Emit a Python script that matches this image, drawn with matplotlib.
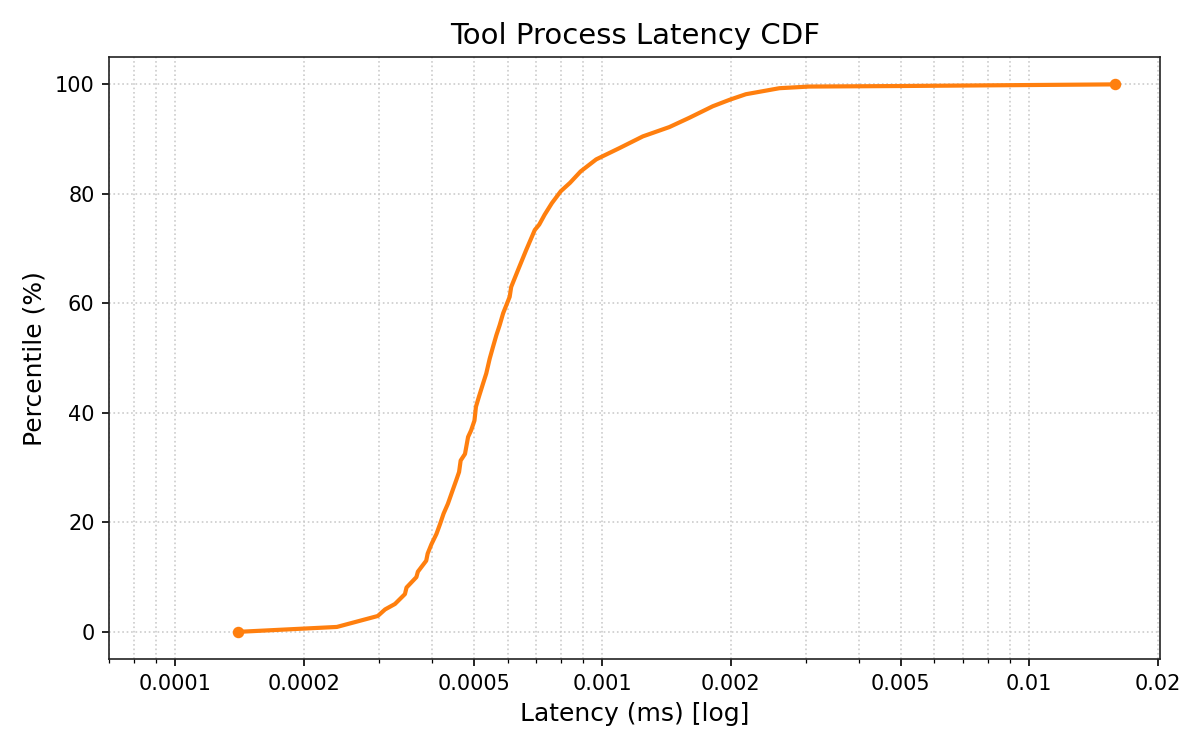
import matplotlib
matplotlib.use("Agg")
import matplotlib.pyplot as plt
from matplotlib.ticker import FixedLocator, FixedFormatter, NullFormatter, LogLocator

latency_ms = [1.40e-4, 2.39e-4, 2.98e-4, 3.10e-4, 3.27e-4, 3.45e-4, 3.48e-4, 3.67e-4, 3.70e-4,
              3.87e-4, 3.90e-4, 3.98e-4, 4.09e-4, 4.17e-4, 4.25e-4, 4.35e-4, 4.46e-4, 4.55e-4,
              4.62e-4, 4.66e-4, 4.77e-4, 4.85e-4, 4.93e-4, 5.02e-4, 5.06e-4, 5.14e-4, 5.26e-4,
              5.35e-4, 5.45e-4, 5.55e-4, 5.65e-4, 5.75e-4, 5.86e-4, 6.07e-4, 6.12e-4, 6.35e-4,
              6.64e-4, 6.95e-4, 7.12e-4, 7.33e-4, 7.62e-4, 8.00e-4, 8.40e-4, 8.90e-4, 9.68e-4,
              1.10e-3, 1.245e-3, 1.436e-3, 1.60e-3, 1.815e-3, 1.99e-3, 2.17e-3, 2.60e-3,
              3.05e-3, 5.0e-3, 1.59e-2]
percentile = [0.0, 0.9, 2.9, 4.1, 5.1, 6.9, 8.1, 10.0, 11.0,
              13.0, 14.3, 16.0, 17.9, 19.7, 21.6, 23.4, 25.8, 27.7,
              29.2, 31.3, 32.5, 35.6, 36.8, 38.6, 41.1, 42.9, 45.4,
              47.2, 49.9, 52.1, 54.2, 56.0, 58.2, 61.2, 63.0, 66.1,
              69.8, 73.4, 74.4, 76.2, 78.3, 80.5, 82.0, 84.1, 86.3,
              88.4, 90.5, 92.2, 93.9, 96.0, 97.2, 98.2, 99.3,
              99.6, 99.7, 100.0]

xticks = [0.0001, 0.0002, 0.0005, 0.001, 0.002, 0.005, 0.01, 0.02]
xticklabels = ["0.0001", "0.0002", "0.0005", "0.001", "0.002", "0.005", "0.01", "0.02"]

color = "#ff7f0e"
fig, ax = plt.subplots(figsize=(8, 5), dpi=150)
ax.plot(latency_ms, percentile, color=color, lw=2)
ax.plot([latency_ms[0], latency_ms[-1]], [percentile[0], percentile[-1]], 'o',
        color=color, ms=4.5)
ax.set_xscale("log")
ax.set_xlim(7e-5, 0.0203)
ax.set_ylim(-5, 105)
ax.xaxis.set_major_locator(FixedLocator(xticks))
ax.xaxis.set_major_formatter(FixedFormatter(xticklabels))
ax.xaxis.set_minor_locator(LogLocator(base=10, subs=range(1, 10)))
ax.xaxis.set_minor_formatter(NullFormatter())
ax.grid(True, which="major", linestyle=":", color="#cccccc", lw=0.8)
ax.grid(True, which="minor", axis="x", linestyle=":", color="#cccccc", lw=0.8)
for s in ax.spines.values():
    s.set_color("#222222")
ax.tick_params(labelsize=10)
ax.set_title("Tool Process Latency CDF", fontsize=14)
ax.set_xlabel("Latency (ms) [log]", fontsize=12)
ax.set_ylabel("Percentile (%)", fontsize=12)
fig.subplots_adjust(left=0.091, right=0.967, top=0.924, bottom=0.121)
fig.savefig("out.png", dpi=150)
